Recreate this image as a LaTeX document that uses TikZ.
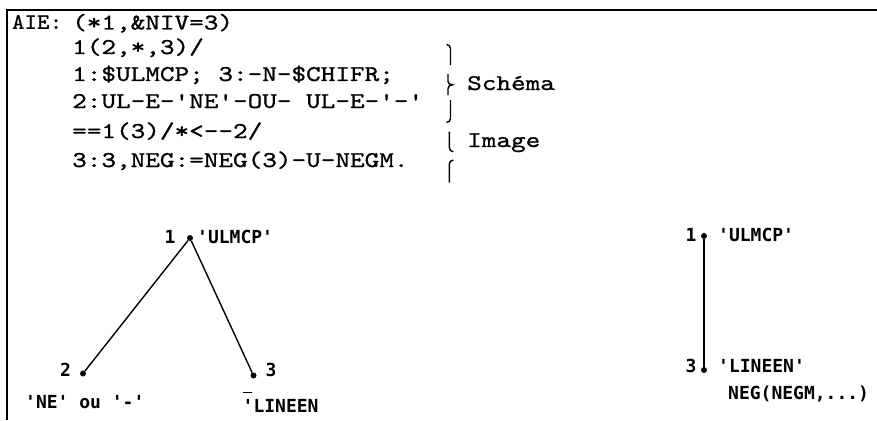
\documentclass[tikz,border=0pt]{standalone}
\usepackage{fontspec}
\newfontfamily\codefont{lmmono10-regular.otf}[Ligatures=TeXOff,FakeBold=1,FakeStretch=1.238]
\newfontfamily\codebold{lmmonolt10-bold.otf}[Ligatures=TeXOff,FakeStretch=1.06]
\newfontfamily\graphfont{DejaVu Sans Mono Bold}[Ligatures=TeXOff]
\begin{document}
\begin{tikzpicture}[x=1pt,y=-1pt,
  code/.style={anchor=base west, inner sep=0pt, font=\codefont\fontsize{22.5}{26}\selectfont},
  glab/.style={inner sep=0pt, font=\graphfont\fontsize{18}{21}\selectfont},
  dotnode/.style={circle, fill=black, inner sep=0pt, minimum size=6pt},
  link/.style={line width=1.4pt},
  brk/.style={line width=1.4pt},
  frameline/.style={line width=2pt}]
\useasboundingbox (0,0) rectangle (877,420);
\fill[white] (0,0) rectangle (877,420);
% frame
\coordinate (fa) at (7,420);
\coordinate (fb) at (7,10);
\coordinate (fc) at (877,10);
\draw[frameline] (fa) -- (fb) -- (fc);
% code lines
\node[code, font=\codebold\fontsize{22.5}{26}\selectfont] (aie) at (12,29.5) {AIE:};
\node[code] (l1) at (72,29.5) {(*1,\&NIV=3)};
\node[code] (l2) at (72,54) {1(2,*,3)/};
\node[code] (l3) at (72,81) {1:\$ULMCP; 3:-N-\$CHIFR;};
\node[code] (l4) at (72,108) {2:UL-E-'NE'-OU- UL-E-'-'};
\node[code] (l5) at (72,138) {==1(3)/*<--2/};
\node[code] (l6) at (72,167) {3:3,NEG:=NEG(3)-U-NEGM.};
\node[code] (schema) at (467,90) {Schéma};
\node[code] (image) at (467,147) {Image};
% brace pieces
\draw[brk] (446.5,44.5) to[out=0,in=90] (450.5,48.5) -- (450.5,65);
\draw[brk] (448,74) -- (448,81.5) .. controls (448,84) and (450,84.5) .. (452.5,84.8)
  .. controls (450,85.2) and (448,86) .. (448,88.5) -- (448,95);
\draw[brk] (450.5,100) -- (450.5,118.5) to[out=-90,in=0] (446.5,122.5);
\draw[brk] (449.3,131.7) -- (449.3,147.5) to[out=-90,in=180] (453.3,151.7);
\draw[brk] (453.3,160) to[out=180,in=90] (449.3,164.2) -- (449.3,182.7);
% left graph
\node[dotnode] (a1) at (190,238) {};
\node[dotnode] (a2) at (83,373.5) {};
\node[dotnode] (a3) at (253.5,375.5) {};
\draw[link] (a1) -- (a2);
\draw[link] (a1) -- (a3);
\node[glab] (a1n) at (170,237) {1};
\node[glab, anchor=west] (a1t) at (197,237) {'ULMCP'};
\node[glab] (a2n) at (65.5,370) {2};
\node[glab] (a3n) at (271,370) {3};
\node[glab, anchor=west] (a2t) at (25,402) {'NE' ou '-'};
\node[glab, anchor=west] (a3t) at (242.5,402) {\rlap{\raisebox{19pt}{\rule{9pt}{1.4pt}}}'LINEEN};
% right graph
\node[dotnode] (b1) at (704,236) {};
\node[dotnode] (b3) at (704,370) {};
\draw[link] (b1) -- (b3);
\node[glab] (b1n) at (691,235) {1};
\node[glab, anchor=west] (b1t) at (718,235) {'ULMCP'};
\node[glab] (b3n) at (691,366) {3};
\node[glab, anchor=west] (b3t) at (718,366) {'LINEEN'};
\node[glab, anchor=west] (b3x) at (728,394) {NEG(NEGM,...)};
\end{tikzpicture}
\end{document}
